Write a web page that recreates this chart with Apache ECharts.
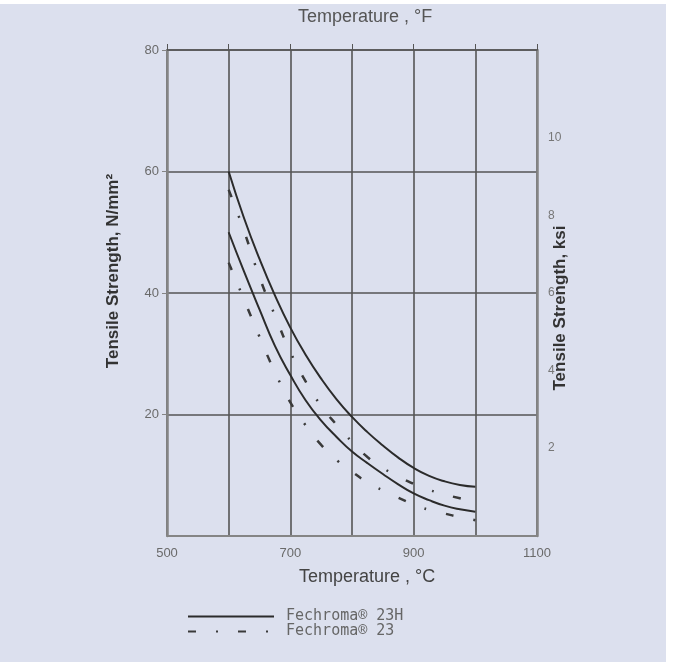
<!DOCTYPE html>
<html lang="en">
<head>
    <meta charset="UTF-8">
    <title>Tensile Strength</title>
    <style>
        html, body { margin: 0; padding: 0; background: #fff; }
        .bg { position: absolute; left: 0; top: 4px; width: 666px; height: 658px; background: #dce0ee; }
        .main { position: absolute; left: 0; top: 0; width: 673px; height: 662px; }
    </style>
</head>
<body>
<div class="bg"></div>
<div class="main"></div>
<script src="https://cdn.jsdelivr.net/npm/echarts@6/dist/echarts.min.js"></script>
<script>
    // temperatures in °C
    var temps = [600, 625, 650, 675, 700, 725, 750, 775, 800, 825, 850, 875, 900, 925, 950, 975, 1000];
    // Fechroma 23H band (solid)
    var h23Upper = [60, 52.3, 45.6, 39.6, 34.3, 29.8, 25.9, 22.5, 19.6, 17.1, 14.9, 12.9, 11.2, 9.9, 9.0, 8.4, 8.1];
    var h23Lower = [50, 43.5, 37.3, 31.3, 26.5, 22.3, 19.0, 16.3, 13.9, 12.0, 10.2, 8.5, 7.0, 5.9, 5.0, 4.4, 4.0];
    // Fechroma 23 band (dash-dot)
    var f23Upper = [57, 50.2, 42.6, 36.3, 30.3, 25.4, 21.4, 18.3, 15.5, 13.0, 11.2, 9.8, 8.6, 7.6, 6.85, 6.2, 5.6];
    var f23Lower = [45, 38.9, 32.8, 27.0, 22.0, 18.2, 15.0, 12.5, 10.6, 8.8, 7.5, 6.3, 5.2, 4.3, 3.7, 3.1, 2.6];

    var seriesNames = ['Fechroma® 23H', 'Fechroma® 23'];
    var celsiusLabels = [500, 700, 900, 1100];
    var ksiLabels = [2, 4, 6, 8, 10];

    var main = document.querySelector(".main");
    var chart = echarts.init(main);

    var pairs = function (vals) {
        return temps.map(function (t, i) { return [t, vals[i]]; });
    };

    var gridColor = '#555';
    var axisGray = '#858585';
    var labelStyle = { fontFamily: 'Liberation Sans', fontSize: 13, color: '#6a6a6a' };

    var solidStyle = { color: '#2b2b2b', width: 2 };
    var dashStyle = { color: '#3a3a3a', width: 2.5, type: [8, 20, 2, 20] };

    var option = {
        animation: false,
        grid: { left: 167, right: 136, top: 50, bottom: 126 },
        legend: {
            data: seriesNames,
            orient: 'vertical',
            left: 187,
            top: 609,
            padding: 0,
            itemWidth: 86,
            itemHeight: 15,
            itemGap: 0,
            itemStyle: { color: 'rgba(0,0,0,0)', borderWidth: 0, opacity: 0 },
            textStyle: { fontFamily: 'DejaVu Sans Mono', fontSize: 15, color: '#666', padding: [0, 0, 0, 7] }
        },
        xAxis: [
            {
                type: 'value', min: 500, max: 1100, interval: 100, position: 'bottom',
                axisLine: { onZero: false, lineStyle: { color: axisGray, width: 2 } },
                axisTick: { show: false },
                axisLabel: Object.assign({ margin: 11, customValues: celsiusLabels, formatter: function (v) { return String(v); } }, labelStyle),
                splitLine: { show: true, lineStyle: { color: gridColor, width: 1.6 } }
            },
            {
                type: 'value', min: 500, max: 1100, interval: 100, position: 'top',
                axisLine: { onZero: false, lineStyle: { color: gridColor, width: 1.6 } },
                axisTick: { show: true, length: 6, lineStyle: { color: gridColor } },
                axisLabel: { show: false },
                splitLine: { show: false }
            }
        ],
        yAxis: [
            {
                type: 'value', min: 0, max: 80, interval: 20, position: 'left',
                axisLine: { show: true, onZero: false, lineStyle: { color: axisGray, width: 2.5 } },
                axisTick: { show: true, length: 5, lineStyle: { color: axisGray } },
                axisLabel: Object.assign({ margin: 8, showMinLabel: false }, labelStyle),
                splitLine: { show: true, lineStyle: { color: gridColor, width: 1.6 } }
            },
            {
                type: 'value', min: -0.27, max: 12.27, position: 'right',
                axisLine: { show: true, onZero: false, lineStyle: { color: axisGray, width: 2.5 } },
                axisTick: { show: false },
                axisLabel: Object.assign({ margin: 11, customValues: ksiLabels }, labelStyle, { fontSize: 12, color: '#777' }),
                splitLine: { show: false }
            }
        ],
        graphic: [
            {
                type: 'text', x: 365, y: 17,
                style: { text: 'Temperature , °F', font: '18px "Liberation Sans"', fill: '#555', align: 'center', verticalAlign: 'middle' }
            },
            {
                type: 'text', x: 367, y: 577,
                style: { text: 'Temperature , °C', font: '18px "Liberation Sans"', fill: '#444', align: 'center', verticalAlign: 'middle' }
            },
            {
                type: 'text', x: 113, y: 271, rotation: Math.PI / 2,
                style: { text: 'Tensile Strength, N/mm²', font: 'bold 17px "Liberation Sans"', fill: '#333', align: 'center', verticalAlign: 'middle' }
            },
            {
                type: 'text', x: 560, y: 308, rotation: Math.PI / 2,
                style: { text: 'Tensile Strength, ksi', font: 'bold 17px "Liberation Sans"', fill: '#333', align: 'center', verticalAlign: 'middle' }
            }
        ],
        series: [
            { name: seriesNames[0], type: 'line', smooth: true, symbol: 'none', data: pairs(h23Upper), lineStyle: solidStyle, itemStyle: { color: solidStyle.color } },
            { name: seriesNames[0], type: 'line', smooth: true, symbol: 'none', data: pairs(h23Lower), lineStyle: solidStyle, itemStyle: { color: solidStyle.color } },
            { name: seriesNames[1], type: 'line', smooth: true, symbol: 'none', data: pairs(f23Upper), lineStyle: dashStyle, itemStyle: { color: dashStyle.color } },
            { name: seriesNames[1], type: 'line', smooth: true, symbol: 'none', data: pairs(f23Lower), lineStyle: dashStyle, itemStyle: { color: dashStyle.color } }
        ]
    };
    chart.setOption(option);
</script>
</body>
</html>
